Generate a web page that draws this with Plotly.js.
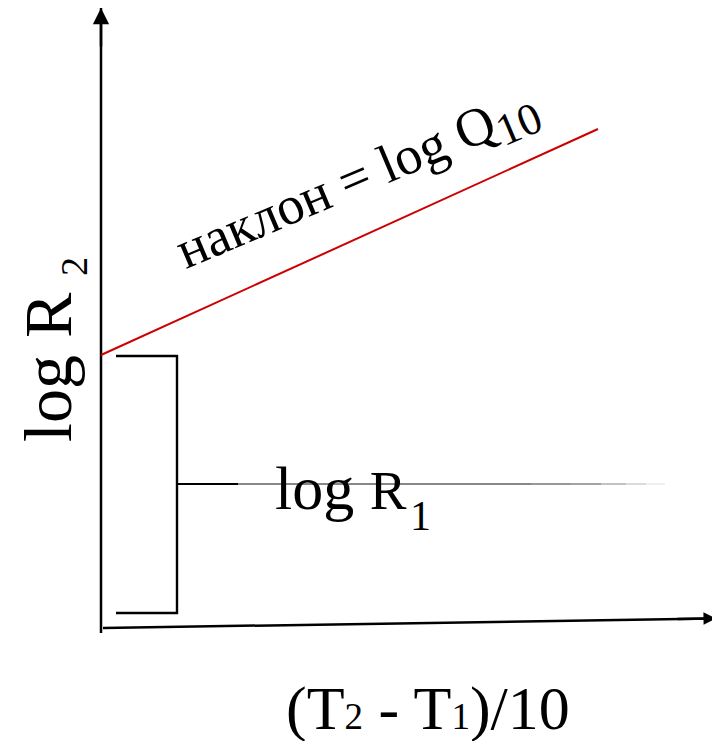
<!DOCTYPE html>
<html>
<head>
<meta charset="utf-8">
<script src="https://cdn.plot.ly/plotly-3.0.1.min.js"></script>
<style>
  html, body { margin: 0; padding: 0; background: #fff; }
  #chart { width: 712px; height: 741px; }
</style>
</head>
<body>
<div id="chart"></div>
<script>
// Schematic: log R2 against (T2 - T1)/10; the intercept is log R1, the slope is log Q10.
// Units: x to the right of the vertical axis, y above the horizontal axis.

// vertical axis (tail, tip)
const yAxisX = [0, 0];
const yAxisY = [-3, 622];
// horizontal axis (tail, tip) – drawn slightly tilted by hand
const xAxisX = [2, 615];
const xAxisY = [2, 11.6];

// the straight line log R2 = log R1 + log Q10 * (T2 - T1)/10
const lineX = [0, 497];
const lineY = [275, 501];

// bracket marking the intercept log R1
const bracketX = [15, 76, 76, 15];
const bracketY = [274, 274, 17, 17];

// short pointer from the bracket to the label
const pointerX = [76, 137];
const pointerY = [146, 146];

// thin guide line through the label, fading out to the right
const guideStops = [137, 430, 470, 500, 525, 545, 564];
const guideColors = ['#111', '#333', '#666', '#999', '#c4c4c4', '#e6e6e6'];
const guideY = 146;

const SERIF = "'Liberation Serif', 'Times New Roman', Times, serif";

const traces = [];
function seg(x, y, color, width) {
  traces.push({
    x: x, y: y, type: 'scatter', mode: 'lines',
    line: { color: color, width: width },
    hoverinfo: 'skip', showlegend: false
  });
}

seg(yAxisX, yAxisY, '#000', 2.5);
seg(xAxisX, xAxisY, '#000', 2.5);
seg(lineX, lineY, 'rgb(204,0,0)', 2);
seg(bracketX, bracketY, '#000', 2.4);
seg(pointerX, pointerY, '#000', 2);
for (let i = 0; i < guideColors.length; i++) {
  seg([guideStops[i], guideStops[i + 1]], [guideY, guideY], guideColors[i], 1.2);
}

function label(x, y, text, size, angle, xanchor) {
  return {
    x: x, y: y, xref: 'x', yref: 'y', showarrow: false,
    textangle: angle || 0, xanchor: xanchor || 'center', yanchor: 'middle',
    text: text, font: { family: SERIF, size: size, color: '#000' }
  };
}

const annotations = [
  // arrow heads of the two axes
  { x: yAxisX[1], y: yAxisY[1], ax: yAxisX[1], ay: yAxisY[1] - 40,
    xref: 'x', yref: 'y', axref: 'x', ayref: 'y', text: '',
    showarrow: true, arrowhead: 2, arrowsize: 1.3, arrowwidth: 2.5, arrowcolor: '#000' },
  { x: xAxisX[1], y: xAxisY[1], ax: xAxisX[1] - 40, ay: xAxisY[1] - 0.6,
    xref: 'x', yref: 'y', axref: 'x', ayref: 'y', text: '',
    showarrow: true, arrowhead: 2, arrowsize: 1.0, arrowwidth: 2.5, arrowcolor: '#000' },
  // y-axis title with its lowered index
  label(-53, 263, 'log R', 68, -90),
  label(-27, 363, '2', 38, -90),
  // x-axis title
  label(327, -78, '(T<span style="font-size:37px">2</span> - T<span style="font-size:37px">1</span>)/10', 62),
  // slope label
  label(257, 449, 'наклон = log Q<sub><span style="font-size:45px">10</span></sub>', 54, -23),
  // intercept label and its index
  label(172, 142, 'log <span style="font-size:55px">R</span>', 62, 0, 'left'),
  label(319, 114, '1', 42)
];

const layout = {
  width: 712, height: 741,
  margin: { l: 0, r: 0, t: 0, b: 0 },
  paper_bgcolor: '#fff', plot_bgcolor: '#fff',
  xaxis: { range: [-101, 611], visible: false, fixedrange: true },
  yaxis: { range: [-111, 630], visible: false, fixedrange: true },
  annotations: annotations,
  showlegend: false
};

Plotly.newPlot('chart', traces, layout, { staticPlot: true });
</script>
</body>
</html>
